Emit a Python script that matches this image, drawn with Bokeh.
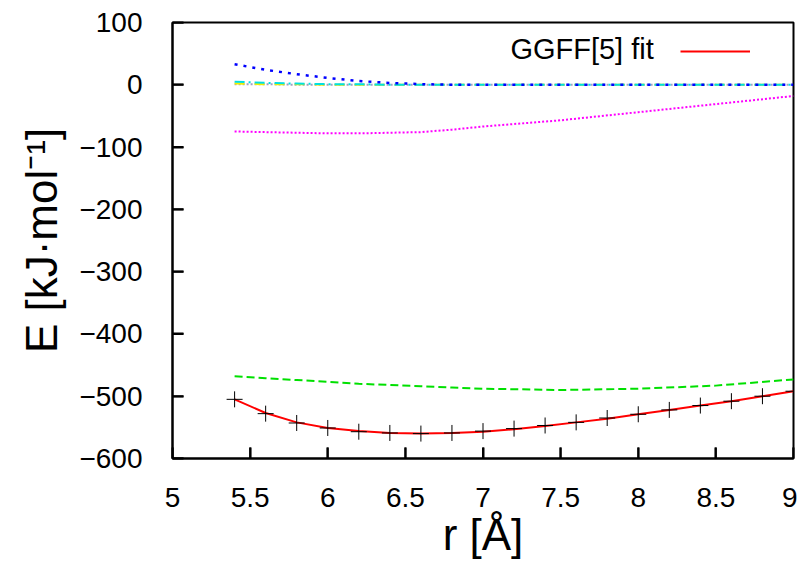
from bokeh.plotting import figure
from bokeh.models import Range1d, Legend, LegendItem, Label, FixedTicker
from bokeh.embed import file_html
from bokeh.resources import INLINE

# ---- data ----
r_pts = [5.4, 5.6, 5.8, 6.0, 6.2, 6.4, 6.6, 6.8, 7.0, 7.2, 7.4, 7.6, 7.8, 8.0, 8.2, 8.4, 8.6, 8.8, 9.0]
e_ref = [-505, -528, -543, -551, -557, -559, -560, -559, -556, -552, -547, -542, -535, -529, -522, -515, -508, -500, -492]
e_fit = [-505, -527, -542, -551, -556, -559, -560, -559, -557, -553, -548, -542, -536, -529, -522, -515, -508, -500, -492]

r_comp = [5.4, 5.6, 5.8, 6.0, 6.2, 6.4, 6.6, 6.8, 7.0, 7.5, 8.0, 8.5, 9.0]
e_green = [-468, -471, -474, -477, -480, -482, -484, -486, -488, -490, -488, -483, -473]
e_magenta = [-75, -76, -77, -78, -78, -77, -76, -72, -67, -57, -44, -31, -18]
e_blue = [33, 24, 17, 11, 6, 3, 1, 0, 0, 0, 0, 0, 0]
e_cyan = [5, 3, 2, 1, 1, 0, 0, 0, 0, 0, 0, 0, 0]
e_yellow = [2, 1, 1, 0, 0, 0, 0, 0, 0, 0, 0, 0, 0]
e_grey = [1, 1, 0, 0, 0, 0, 0, 0, 0, 0, 0, 0, 0]

x_ticks = [5, 5.5, 6, 6.5, 7, 7.5, 8, 8.5, 9]
y_ticks = [100, 0, -100, -200, -300, -400, -500, -600]

FONT = "Liberation Sans"
X0, X1, Y0, Y1 = 5, 9, -600, 100

p = figure(width=797, height=562, output_backend="svg", toolbar_location=None,
           x_range=Range1d(X0, X1), y_range=Range1d(Y0, Y1),
           min_border_left=172, min_border_right=4, min_border_top=22, min_border_bottom=104)

p.grid.visible = False
p.outline_line_color = "black"
p.outline_line_width = 2
p.background_fill_color = "white"
p.border_fill_color = "white"

for ax in (p.xaxis[0], p.yaxis[0]):
    ax.major_tick_in = 11
    ax.major_tick_out = 0
    ax.major_tick_line_color = "black"
    ax.major_tick_line_width = 2
    ax.minor_tick_in = 0
    ax.minor_tick_out = 0
    ax.axis_line_color = "black"
    ax.axis_line_width = 2
    ax.major_label_text_font = FONT
    ax.major_label_text_font_size = "28px"
    ax.major_label_text_color = "black"
    ax.axis_label_text_font = FONT
    ax.axis_label_text_font_style = "normal"
    ax.axis_label_text_color = "black"

p.xaxis.axis_label_text_font_size = "44px"
p.yaxis.axis_label_text_font_size = "44px"
p.xaxis.ticker = FixedTicker(ticks=x_ticks)
p.yaxis.ticker = FixedTicker(ticks=y_ticks)
p.xaxis.major_label_overrides = {5: "5", 5.5: "5.5", 6: "6", 6.5: "6.5", 7: "7", 7.5: "7.5", 8: "8", 8.5: "8.5", 9: "9"}
p.yaxis.major_label_overrides = {v: str(v).replace("-", "\u2212") for v in y_ticks}
p.xaxis.major_label_standoff = 29
p.yaxis.major_label_standoff = 30
p.xaxis.axis_label = "r [\u00c5]"
p.yaxis.axis_label = "E [kJ\u00b7mol\u207b\u00b9]"
p.xaxis.axis_label_standoff = 0
p.yaxis.axis_label_standoff = 10

# inward tick marks (11 px) drawn from the tick lists
tick_dy = 11 * (Y1 - Y0) / 436.0
tick_dx = 11 * (X1 - X0) / 621.0
p.segment(x0=x_ticks, y0=[Y0] * len(x_ticks), x1=x_ticks, y1=[Y0 + tick_dy] * len(x_ticks),
          line_color="black", line_width=2)
p.segment(x0=[X0] * len(y_ticks), y0=y_ticks, x1=[X0 + tick_dx] * len(y_ticks), y1=y_ticks,
          line_color="black", line_width=2)

# component lines
p.line(r_comp, e_magenta, line_color="#ff00ff", line_width=2, line_dash="2 2")
p.line(r_comp, e_green, line_color="#00e000", line_width=2, line_dash="8 4")
p.line(r_comp, e_grey, line_color="#a0a0c0", line_width=2, line_dash="2 2")
p.line(r_comp, e_yellow, line_color="#f0f000", line_width=2, line_dash="10 10")
p.line(r_comp, e_cyan, line_color="#00e0e0", line_width=2, line_dash="10 4 2 4")
p.line(r_comp, e_blue, line_color="#0000ff", line_width=2.5, line_dash="3 6")

# fit and reference points
fit = p.line(r_pts, e_fit, line_color="#ff0000", line_width=2)
p.scatter(r_pts, e_ref, marker="cross", size=16, line_color="black", line_width=1)

p.add_layout(Label(x=8.1, y=57, text="GGFF[5] fit", text_align="right", text_baseline="middle",
                   text_font=FONT, text_font_size="29px", text_color="black"))
legend = Legend(items=[LegendItem(label="", renderers=[fit])], location=(508, 397),
                glyph_width=70, glyph_height=20, label_standoff=0, padding=0, margin=0,
                border_line_color=None, background_fill_alpha=0, label_text_font_size="1px")
p.add_layout(legend)

open("out.html", "w").write(file_html(p, INLINE))
